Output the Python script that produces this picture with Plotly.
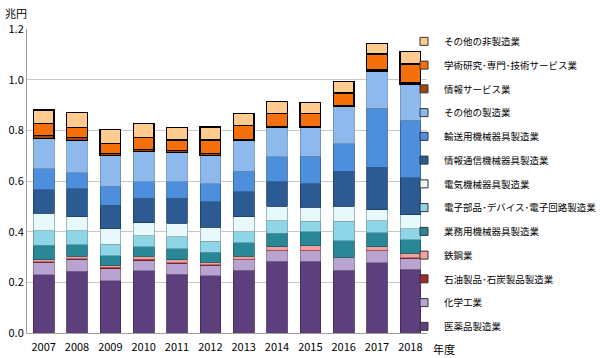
import plotly.graph_objects as go

years = ["2007", "2008", "2009", "2010", "2011", "2012", "2013", "2014", "2015", "2016", "2017", "2018"]

# series, bottom to top (values in 兆円)
medicine      = [0.230, 0.243, 0.206, 0.246, 0.231, 0.226, 0.248, 0.283, 0.283, 0.248, 0.278, 0.252]
chemical      = [0.050, 0.048, 0.047, 0.040, 0.044, 0.041, 0.042, 0.041, 0.042, 0.049, 0.046, 0.043]
petroleum     = [0.002, 0.002, 0.006, 0.006, 0.002, 0.002, 0.001, 0.003, 0.002, 0.001, 0.002, 0.002]
steel         = [0.008, 0.009, 0.008, 0.010, 0.013, 0.011, 0.012, 0.013, 0.017, 0.002, 0.015, 0.017]
business_mach = [0.056, 0.047, 0.037, 0.039, 0.043, 0.038, 0.054, 0.054, 0.055, 0.065, 0.055, 0.055]
elec_parts    = [0.057, 0.054, 0.047, 0.042, 0.046, 0.044, 0.043, 0.050, 0.043, 0.077, 0.047, 0.043]
electrical    = [0.070, 0.055, 0.061, 0.053, 0.055, 0.055, 0.058, 0.057, 0.055, 0.059, 0.044, 0.055]
info_comm     = [0.093, 0.111, 0.092, 0.095, 0.097, 0.101, 0.100, 0.097, 0.092, 0.138, 0.168, 0.145]
transport     = [0.082, 0.063, 0.076, 0.066, 0.067, 0.071, 0.081, 0.098, 0.108, 0.109, 0.232, 0.227]
other_mfg     = [0.119, 0.128, 0.122, 0.121, 0.116, 0.112, 0.121, 0.116, 0.115, 0.147, 0.147, 0.144]
info_service  = [0.013, 0.011, 0.007, 0.007, 0.007, 0.007, 0.002, 0.004, 0.003, 0.001, 0.004, 0.004]
academic      = [0.046, 0.040, 0.040, 0.046, 0.041, 0.054, 0.056, 0.050, 0.050, 0.051, 0.063, 0.075]
other_nonmfg  = [0.054, 0.059, 0.055, 0.055, 0.049, 0.051, 0.049, 0.047, 0.046, 0.046, 0.043, 0.050]

series_names = [
    "医薬品製造業", "化学工業", "石油製品･石炭製品製造業", "鉄鋼業", "業務用機械器具製造業",
    "電子部品･デバイス･電子回路製造業", "電気機械器具製造業", "情報通信機械器具製造業",
    "輸送用機械器具製造業", "その他の製造業", "情報サービス業", "学術研究･専門･技術サービス業",
    "その他の非製造業",
]
series_values = [medicine, chemical, petroleum, steel, business_mach, elec_parts, electrical,
                 info_comm, transport, other_mfg, info_service, academic, other_nonmfg]
colors = ["#5E3F7E", "#B9A3D0", "#9E2B2B", "#F2A0A0", "#2A8798", "#8FD5E8", "#E8F9FB",
          "#2C5A92", "#4D8EDD", "#8DB9ED", "#A3430F", "#F5700B", "#FFCB8F"]
line_colors = ["#3E2A55", "#7E6C94", "#6A1C1C", "#B06060", "#1C5D69", "#5E9BAA", "#8FA5AA",
               "#1D3D63", "#33609A", "#6A8DB5", "#000000", "#000000", "#000000"]
line_widths = [0.8, 0.8, 0.8, 0.8, 0.8, 0.8, 0.8, 0.8, 0.8, 0.8, 1.1, 1.2, 1.2]

font_family = "Noto Sans CJK JP, Liberation Sans, sans-serif"

fig = go.Figure()
# stacked bars, bottom to top
for i, (name, vals, c, lc, lw) in enumerate(zip(series_names, series_values, colors, line_colors, line_widths)):
    fig.add_trace(go.Bar(
        x=years, y=vals, name=name, legendgroup=f"g{i}", showlegend=False,
        marker=dict(color=c, line=dict(color=lc, width=lw)),
    ))
# legend entries (small square swatches), listed top to bottom
for i in reversed(range(len(series_names))):
    fig.add_trace(go.Scatter(
        x=[None], y=[None], mode="markers", name=series_names[i], legendgroup=f"g{i}",
        showlegend=True, hoverinfo="skip",
        marker=dict(symbol="square", size=8, color=colors[i], line=dict(color="#333333", width=1)),
    ))

fig.update_layout(
    width=600, height=358,
    barmode="stack", bargap=0.38,
    plot_bgcolor="white", paper_bgcolor="white",
    margin=dict(l=27, r=173, t=29, b=25, autoexpand=False),
    font=dict(family=font_family, size=11, color="black"),
    showlegend=True,
    legend=dict(
        traceorder="grouped", tracegroupgap=4.75,
        x=0.9425, xanchor="left", y=1.007, yanchor="top",
        font=dict(size=9.5, family=font_family, color="black"),
        bgcolor="rgba(0,0,0,0)", itemwidth=30, maxheight=358,
    ),
    xaxis=dict(
        showline=True, linecolor="#A0A0A0", linewidth=1, ticks="",
        tickfont=dict(size=11), showgrid=False, ticklabelstandoff=4,
    ),
    yaxis=dict(
        range=[0, 1.2], dtick=0.2, tickformat=".1f",
        showline=True, linecolor="#A0A0A0", linewidth=1,
        showgrid=True, gridcolor="#C8C8C8", gridwidth=1,
        ticks="", tickfont=dict(size=11), zeroline=False,
    ),
    annotations=[
        dict(text="兆円", x=0, y=1, xref="paper", yref="paper", xshift=-24, yshift=6,
             xanchor="left", yanchor="bottom", showarrow=False, font=dict(size=11)),
        dict(text="年度", x=1, y=0, xref="paper", yref="paper", xshift=4, yshift=-6,
             xanchor="left", yanchor="top", showarrow=False, font=dict(size=11)),
    ],
)

fig.write_html("out.html", config={"displayModeBar": False},
               post_script="document.body.style.margin='0';")
